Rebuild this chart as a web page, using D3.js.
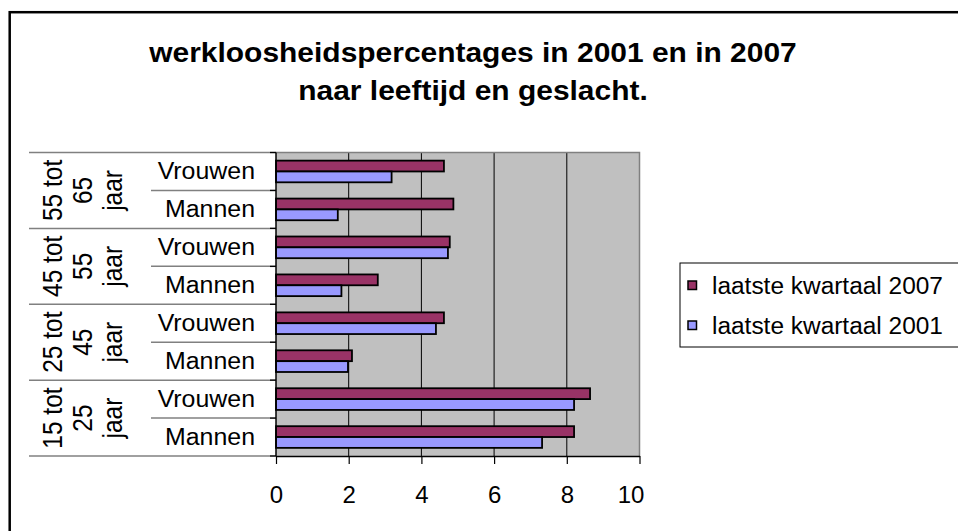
<!DOCTYPE html>
<html>
<head>
<meta charset="utf-8">
<script src="https://cdn.jsdelivr.net/npm/d3@7"></script>
<style>
  body { margin: 0; background: #fff; }
  svg { display: block; font-family: "Liberation Sans", Arial, sans-serif; }
</style>
</head>
<body>
<div id="chart"></div>
<script>
// chart data
var titleLines = ["werkloosheidspercentages in 2001 en in 2007", "naar leeftijd en geslacht."];
var ageGroups = ["55 tot 65 jaar", "45 tot 55 jaar", "25 tot 45 jaar", "15 tot 25 jaar"];
var genders = ["Vrouwen", "Mannen"];
var seriesNames = ["laatste kwartaal 2007", "laatste kwartaal 2001"];
var values2007 = [4.62, 4.88, 4.78, 2.80, 4.62, 2.09, 8.64, 8.20];
var values2001 = [3.18, 1.70, 4.73, 1.80, 4.40, 1.98, 8.20, 7.32];
var xTicks = [0, 2, 4, 6, 8, 10];
var seriesColors = ["#993366", "#9999FF"];

var width = 958, height = 531;
var plot = { left: 276, right: 639.5, top: 152.5, bottom: 456 };

// one row per age group + gender
var rows = [];
ageGroups.forEach(function(g, i) {
  genders.forEach(function(s, j) {
    var k = i * genders.length + j;
    rows.push({ key: g + "|" + s, group: g, gender: s, v: [values2007[k], values2001[k]] });
  });
});

var svg = d3.select("#chart").append("svg")
  .attr("width", width)
  .attr("height", height);

// outer chart frame (runs off the right and bottom)
svg.append("rect")
  .attr("x", 9.7).attr("y", 12.2)
  .attr("width", 1000).attr("height", 600)
  .attr("fill", "#fff").attr("stroke", "#000").attr("stroke-width", 2.5);

// title
svg.selectAll(".title")
  .data(titleLines)
  .enter().append("text")
  .attr("class", "title")
  .attr("transform", function(d, i) { return "translate(473," + (62 + i * 38) + ") scale(1.07,1)"; })
  .attr("text-anchor", "middle")
  .attr("font-size", 28)
  .attr("font-weight", "bold")
  .text(function(d) { return d; });

var x = d3.scaleLinear().domain([0, 10]).range([plot.left, plot.right]);
var y = d3.scaleBand().domain(rows.map(function(r) { return r.key; })).range([plot.top, plot.bottom]);
var yGroup = d3.scaleBand().domain(ageGroups).range([plot.top, plot.bottom]);
var ySeries = d3.scaleBand().domain(seriesNames).range([0, y.bandwidth()]).paddingOuter(0.75);

// plot area
svg.append("rect")
  .attr("x", plot.left).attr("y", plot.top)
  .attr("width", plot.right - plot.left).attr("height", plot.bottom - plot.top)
  .attr("fill", "#C0C0C0");

svg.selectAll(".grid")
  .data(xTicks.slice(1, -1))
  .enter().append("line")
  .attr("x1", function(d) { return x(d); }).attr("x2", function(d) { return x(d); })
  .attr("y1", plot.top).attr("y2", plot.bottom)
  .attr("stroke", "#000").attr("stroke-width", 1);

svg.append("path")
  .attr("d", "M" + plot.left + "," + plot.top + "H" + plot.right + "V" + plot.bottom)
  .attr("fill", "none").attr("stroke", "#808080").attr("stroke-width", 1.5);

// bars
var rowG = svg.selectAll(".row")
  .data(rows)
  .enter().append("g")
  .attr("transform", function(d) { return "translate(0," + y(d.key) + ")"; });

rowG.selectAll("rect")
  .data(function(d) { return d.v.map(function(v, i) { return { s: seriesNames[i], v: v, i: i }; }); })
  .enter().append("rect")
  .attr("x", x(0))
  .attr("y", function(d) { return ySeries(d.s); })
  .attr("width", function(d) { return x(d.v) - x(0); })
  .attr("height", ySeries.bandwidth())
  .attr("fill", function(d) { return seriesColors[d.i]; })
  .attr("stroke", "#000").attr("stroke-width", 1.8);

// x axis
var xAxis = d3.axisBottom(x).tickValues(xTicks).tickSize(8).tickSizeOuter(0).tickPadding(21.5);
var gx = svg.append("g")
  .attr("transform", "translate(0," + plot.bottom + ")")
  .call(xAxis);
gx.select(".domain").attr("stroke", "#000").attr("stroke-width", 1.5);
gx.selectAll(".tick line").attr("stroke", "#000").attr("stroke-width", 1.2);
gx.selectAll(".tick text")
  .attr("font-family", "Liberation Sans, Arial, sans-serif")
  .attr("font-size", 24).attr("fill", "#000")
  .attr("dx", function(d) { return d === 10 ? -9 : 0; });

// category axis: line, ticks and label separators
svg.append("line")
  .attr("x1", plot.left).attr("x2", plot.left)
  .attr("y1", plot.top).attr("y2", plot.bottom)
  .attr("stroke", "#000").attr("stroke-width", 1.5);

var bounds = rows.map(function(r) { return y(r.key); }).concat([plot.bottom]);
svg.selectAll(".sep")
  .data(bounds)
  .enter().append("line")
  .attr("x1", function(d, i) { return i % 2 === 0 ? 29 : 151; })
  .attr("x2", plot.left - 6)
  .attr("y1", function(d) { return d; }).attr("y2", function(d) { return d; })
  .attr("stroke", "#808080").attr("stroke-width", 1.5);

svg.selectAll(".ytick")
  .data(bounds)
  .enter().append("line")
  .attr("x1", plot.left - 6).attr("x2", plot.left)
  .attr("y1", function(d) { return d; }).attr("y2", function(d) { return d; })
  .attr("stroke", "#000").attr("stroke-width", 1.5);

// gender labels
svg.selectAll(".glabel")
  .data(rows)
  .enter().append("text")
  .attr("transform", function(d) { return "translate(255," + (y(d.key) + y.bandwidth() / 2 + 8) + ") scale(1.06,1)"; })
  .attr("text-anchor", "end")
  .attr("font-size", 23.5)
  .text(function(d) { return d.gender; });

// age group labels, rotated, three lines each
var lineX = [62, 92, 122];
ageGroups.forEach(function(g) {
  var w = g.split(" ");
  var lines = [w[0] + " " + w[1], w[2], w[3]];
  var cy = yGroup(g) + yGroup.bandwidth() / 2;
  lines.forEach(function(t, k) {
    svg.append("text")
      .attr("transform", "translate(" + lineX[k] + "," + cy + ") rotate(-90) scale(1,1.1)")
      .attr("text-anchor", "middle")
      .attr("font-size", 24.5)
      .text(t);
  });
});

// legend
var legY = d3.scaleBand().domain(seriesNames).range([265, 345]);
svg.append("rect")
  .attr("x", 680).attr("y", 263)
  .attr("width", 300).attr("height", 84)
  .attr("fill", "#fff").attr("stroke", "#000").attr("stroke-width", 1);

var leg = svg.selectAll(".leg")
  .data(seriesNames)
  .enter().append("g")
  .attr("transform", function(d) { return "translate(0," + (legY(d) + legY.bandwidth() / 2) + ")"; });

leg.append("rect")
  .attr("x", 688).attr("y", -4)
  .attr("width", 8.5).attr("height", 8.5)
  .attr("fill", function(d, i) { return seriesColors[i]; })
  .attr("stroke", "#000").attr("stroke-width", 1.5);

leg.append("text")
  .attr("transform", "translate(712,8.5) scale(1.04,1)")
  .attr("font-size", 23.5)
  .text(function(d) { return d; });
</script>
</body>
</html>
